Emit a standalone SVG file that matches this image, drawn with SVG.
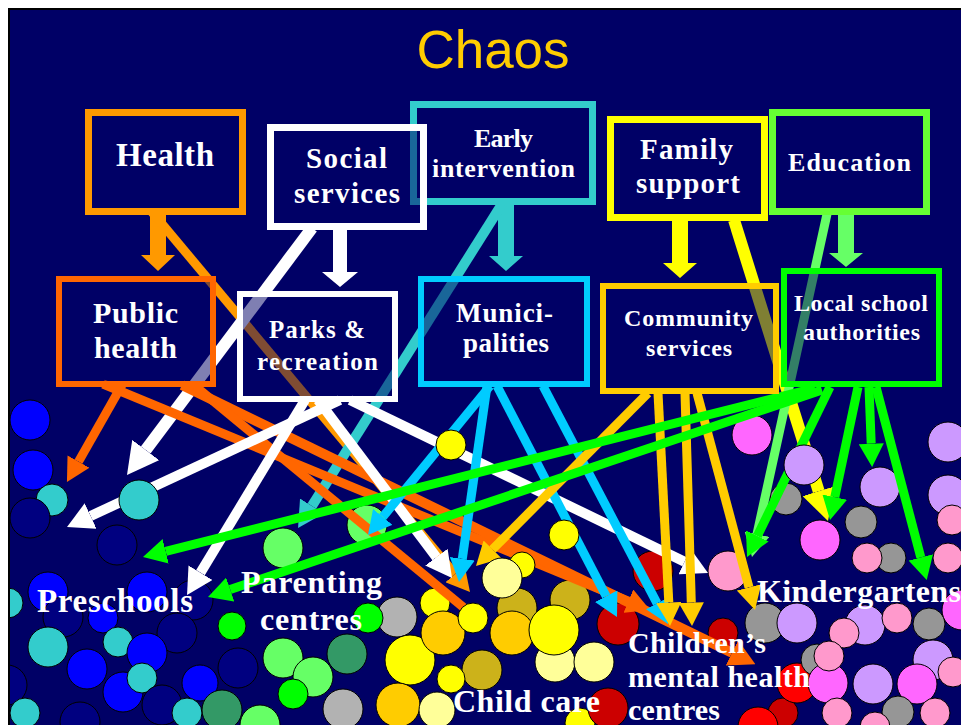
<svg xmlns="http://www.w3.org/2000/svg" width="961" height="725" viewBox="0 0 961 725">
<defs>
<style>
.c{stroke:#000;stroke-width:1}
.bl{fill:#0000FF}.tl{fill:#33CCCC}.nv{fill:#000080}
.lg{fill:#66FF66}.gr{fill:#00FF00}.dg{fill:#339966}.gy{fill:#B2B2B2}
.ye{fill:#FFFF00}.go{fill:#FFCC00}.ly{fill:#FFFF99}.ol{fill:#CCB21A}
.dr{fill:#CC0000}.rd{fill:#FF0000}
.pk{fill:#FF99CC}.lv{fill:#CC99FF}.mg{fill:#FF66FF}.gk{fill:#969696}
.ln{fill:none;stroke-linecap:butt}
.box{fill:#000066;fill-opacity:0.5}
.t1{stroke-width:7}.t2{stroke-width:6}
.lab{font-family:"Liberation Serif","DejaVu Serif",serif;font-weight:bold;fill:#fff;text-anchor:middle}
.big{font-family:"Liberation Serif","DejaVu Serif",serif;font-weight:bold;fill:#fff}
</style>
<clipPath id="clipBg"><rect x="10" y="10" width="951" height="715"/></clipPath>
<marker id="mOr" viewBox="0 0 2.6 2.8" refX="0" refY="1.4" markerWidth="2.6" markerHeight="2.8" orient="auto" markerUnits="strokeWidth"><path d="M0,0 L2.6,1.4 L0,2.8 z" fill="#FF9900"/></marker>
<marker id="mRo" viewBox="0 0 2.6 2.8" refX="0" refY="1.4" markerWidth="2.6" markerHeight="2.8" orient="auto" markerUnits="strokeWidth"><path d="M0,0 L2.6,1.4 L0,2.8 z" fill="#FF6600"/></marker>
<marker id="mWh" viewBox="0 0 2.6 2.8" refX="0" refY="1.4" markerWidth="2.6" markerHeight="2.8" orient="auto" markerUnits="strokeWidth"><path d="M0,0 L2.6,1.4 L0,2.8 z" fill="#FFFFFF"/></marker>
<marker id="mTl" viewBox="0 0 2.6 2.8" refX="0" refY="1.4" markerWidth="2.6" markerHeight="2.8" orient="auto" markerUnits="strokeWidth"><path d="M0,0 L2.6,1.4 L0,2.8 z" fill="#33CCCC"/></marker>
<marker id="mBl" viewBox="0 0 2.6 2.8" refX="0" refY="1.4" markerWidth="2.6" markerHeight="2.8" orient="auto" markerUnits="strokeWidth"><path d="M0,0 L2.6,1.4 L0,2.8 z" fill="#00CCFF"/></marker>
<marker id="mGo" viewBox="0 0 2.6 2.8" refX="0" refY="1.4" markerWidth="2.6" markerHeight="2.8" orient="auto" markerUnits="strokeWidth"><path d="M0,0 L2.6,1.4 L0,2.8 z" fill="#FFCC00"/></marker>
<marker id="mYe" viewBox="0 0 2.6 2.8" refX="0" refY="1.4" markerWidth="2.6" markerHeight="2.8" orient="auto" markerUnits="strokeWidth"><path d="M0,0 L2.6,1.4 L0,2.8 z" fill="#FFFF00"/></marker>
<marker id="mGr" viewBox="0 0 2.6 2.8" refX="0" refY="1.4" markerWidth="2.6" markerHeight="2.8" orient="auto" markerUnits="strokeWidth"><path d="M0,0 L2.6,1.4 L0,2.8 z" fill="#00FF00"/></marker>
<marker id="mLg" viewBox="0 0 2.6 2.8" refX="0" refY="1.4" markerWidth="2.6" markerHeight="2.8" orient="auto" markerUnits="strokeWidth"><path d="M0,0 L2.6,1.4 L0,2.8 z" fill="#66FF66"/></marker>
</defs>

<rect x="0" y="0" width="961" height="725" fill="#FFFFFF"/>
<rect x="9" y="9" width="960" height="720" fill="#000066" stroke="#000" stroke-width="2"/>

<g id="dots-back" clip-path="url(#clipBg)">
<!-- preschools -->
<circle class="c bl" cx="30" cy="420" r="20"/>
<circle class="c bl" cx="33" cy="470" r="20"/>
<circle class="c tl" cx="52" cy="500" r="16"/>
<circle class="c nv" cx="30" cy="518" r="20"/>
<circle class="c nv" cx="117" cy="545" r="20"/>
<circle class="c bl" cx="48" cy="592" r="20"/>
<circle class="c bl" cx="147" cy="592" r="20"/>
<circle class="c tl" cx="8" cy="603" r="15"/>
<circle class="c nv" cx="63" cy="617" r="20"/>
<circle class="c bl" cx="103" cy="618" r="15"/>
<circle class="c nv" cx="193" cy="600" r="20"/>
<circle class="c nv" cx="177" cy="633" r="20"/>
<circle class="c tl" cx="118" cy="642" r="15"/>
<circle class="c tl" cx="48" cy="647" r="20"/>
<circle class="c bl" cx="147" cy="653" r="20"/>
<circle class="c bl" cx="87" cy="669" r="20"/>
<circle class="c nv" cx="7" cy="685" r="20"/>
<circle class="c bl" cx="123" cy="692" r="20"/>
<circle class="c tl" cx="142" cy="678" r="15"/>
<circle class="c bl" cx="200" cy="683" r="18"/>
<circle class="c nv" cx="162" cy="705" r="20"/>
<circle class="c tl" cx="25" cy="713" r="15"/>
<circle class="c nv" cx="80" cy="722" r="20"/>
<circle class="c tl" cx="187" cy="713" r="15"/>
<circle class="c nv" cx="238" cy="668" r="20"/>
<!-- parenting -->
<circle class="c lg" cx="283" cy="548" r="20"/>
<circle class="c lg" cx="367" cy="525" r="20"/>
<circle class="c gr" cx="232" cy="626" r="14"/>
<circle class="c dg" cx="222" cy="710" r="20"/>
<circle class="c lg" cx="260" cy="725" r="20"/>
<circle class="c lg" cx="283" cy="658" r="20"/>
<circle class="c lg" cx="313" cy="677" r="20"/>
<circle class="c gr" cx="293" cy="694" r="15"/>
<circle class="c dg" cx="347" cy="654" r="20"/>
<circle class="c gy" cx="343" cy="709" r="20"/>
<circle class="c gy" cx="397" cy="617" r="20"/>
<circle class="c gr" cx="368" cy="618" r="15"/>
<!-- child care -->
<circle class="c ol" cx="482" cy="670" r="20"/>
<circle class="c ol" cx="517" cy="608" r="20"/>
<circle class="c ol" cx="570" cy="600" r="20"/>
<circle class="c ly" cx="555" cy="662" r="20"/>
<circle class="c ly" cx="594" cy="662" r="20"/>
<circle class="c ye" cx="435" cy="603" r="15"/>
<circle class="c ye" cx="410" cy="660" r="25"/>
<circle class="c go" cx="443" cy="633" r="22"/>
<circle class="c ye" cx="451" cy="679" r="14"/>
<circle class="c go" cx="398" cy="705" r="22"/>
<circle class="c ly" cx="437" cy="710" r="18"/>
<circle class="c go" cx="512" cy="633" r="22"/>
<circle class="c ye" cx="554" cy="630" r="25"/>
<circle class="c ye" cx="580" cy="723" r="15"/>
<!-- mental health -->
<circle class="c dr" cx="653" cy="571" r="20"/>
<circle class="c dr" cx="618" cy="624" r="21"/>
<circle class="c dr" cx="723" cy="633" r="15"/>
<circle class="c dr" cx="608" cy="708" r="20"/>
<circle class="c dr" cx="783" cy="713" r="15"/>
<circle class="c rd" cx="797" cy="683" r="20"/>
<circle class="c rd" cx="758" cy="727" r="20"/>
<!-- kindergartens -->
<circle class="c mg" cx="752" cy="435" r="20"/>
<circle class="c gk" cx="786" cy="499" r="16"/>
<circle class="c lv" cx="880" cy="487" r="20"/>
<circle class="c lv" cx="948" cy="442" r="20"/>
<circle class="c lv" cx="948" cy="495" r="20"/>
<circle class="c pk" cx="952" cy="520" r="15"/>
<circle class="c gk" cx="861" cy="522" r="16"/>
<circle class="c mg" cx="820" cy="540" r="20"/>
<circle class="c gk" cx="891" cy="558" r="15"/>
<circle class="c pk" cx="867" cy="558" r="15"/>
<circle class="c pk" cx="948" cy="558" r="15"/>
<circle class="c pk" cx="728" cy="571" r="20"/>
<circle class="c gk" cx="765" cy="623" r="20"/>
<circle class="c lv" cx="797" cy="623" r="20"/>
<circle class="c lv" cx="865" cy="625" r="20"/>
<circle class="c pk" cx="844" cy="633" r="15"/>
<circle class="c pk" cx="897" cy="618" r="15"/>
<circle class="c gk" cx="929" cy="624" r="16"/>
<circle class="c mg" cx="962" cy="610" r="20"/>
<circle class="c gk" cx="817" cy="660" r="16"/>
<circle class="c lv" cx="933" cy="660" r="20"/>
<circle class="c mg" cx="828" cy="683" r="20"/>
<circle class="c pk" cx="829" cy="656" r="15"/>
<circle class="c lv" cx="873" cy="684" r="20"/>
<circle class="c mg" cx="917" cy="684" r="20"/>
<circle class="c pk" cx="953" cy="672" r="15"/>
<circle class="c pk" cx="837" cy="713" r="15"/>
<circle class="c gk" cx="898" cy="712" r="16"/>
<circle class="c pk" cx="935" cy="713" r="15"/>
<circle class="c pk" cx="875" cy="727" r="15"/>
</g>

<g id="connectors">
<!-- block arrows between rows -->
<polygon points="150,213 166,213 166,255 175,255 158,271 141,255 150,255" fill="#FF9900"/>
<polygon points="333,228 347,228 347,272 358,272 340,287 322,272 333,272" fill="#FFFFFF"/>
<polygon points="498,203 514,203 514,256 523,256 506,271 489,256 498,256" fill="#33CCCC"/>
<polygon points="672,219 688,219 688,263 697,263 680,278 663,263 672,263" fill="#FFFF00"/>
<polygon points="838,213 854,213 854,253 863,253 846,267 829,253 838,253" fill="#66FF66"/>
<!-- top-level long lines -->
<line class="ln" x1="152" y1="212" x2="455" y2="574.1" stroke="#FF9900" stroke-width="9" marker-end="url(#mOr)"/>
<line class="ln" x1="312" y1="228" x2="145.7" y2="450" stroke="#FFFFFF" stroke-width="12" marker-end="url(#mWh)"/>
<line class="ln" x1="502" y1="204" x2="311.9" y2="506" stroke="#33CCCC" stroke-width="10" marker-end="url(#mTl)"/>
<line class="ln" x1="734" y1="220" x2="818.7" y2="491.2" stroke="#FFFF00" stroke-width="12" marker-end="url(#mYe)"/>
<line class="ln" x1="827" y1="214" x2="757" y2="534.1" stroke="#66FF66" stroke-width="9" marker-end="url(#mLg)"/>
<!-- public health -->
<line class="ln" x1="122" y1="385" x2="78.5" y2="461.6" stroke="#FF6600" stroke-width="9" marker-end="url(#mRo)"/>
<line class="ln" x1="103" y1="384" x2="628.4" y2="601.1" stroke="#FF6600" stroke-width="9" marker-end="url(#mRo)"/>
<line class="ln" x1="182" y1="385" x2="732" y2="652.8" stroke="#FF6600" stroke-width="10" marker-end="url(#mRo)"/>
<line class="ln" x1="195" y1="386" x2="480" y2="621" stroke="#FF6600" stroke-width="9"/>
<!-- parks & recreation -->
<line class="ln" x1="340" y1="400" x2="90.6" y2="516" stroke="#FFFFFF" stroke-width="10" marker-end="url(#mWh)"/>
<line class="ln" x1="305" y1="400" x2="200.5" y2="572.7" stroke="#FFFFFF" stroke-width="10" marker-end="url(#mWh)"/>
<line class="ln" x1="318" y1="400" x2="436.4" y2="557.2" stroke="#FFFFFF" stroke-width="10" marker-end="url(#mWh)"/>
<line class="ln" x1="350" y1="400" x2="684.6" y2="561.7" stroke="#FFFFFF" stroke-width="10" marker-end="url(#mWh)"/>
<!-- municipalities -->
<line class="ln" x1="490" y1="386" x2="382.8" y2="516.9" stroke="#00CCFF" stroke-width="9" marker-end="url(#mBl)"/>
<line class="ln" x1="487" y1="386" x2="462.3" y2="558.8" stroke="#00CCFF" stroke-width="9" marker-end="url(#mBl)"/>
<line class="ln" x1="497" y1="386" x2="606.2" y2="596.2" stroke="#00CCFF" stroke-width="9" marker-end="url(#mBl)"/>
<line class="ln" x1="543" y1="386" x2="657.1" y2="603.3" stroke="#00CCFF" stroke-width="9" marker-end="url(#mBl)"/>
<!-- community services -->
<line class="ln" x1="648" y1="393" x2="492.5" y2="549.4" stroke="#FFCC00" stroke-width="9" marker-end="url(#mGo)"/>
<line class="ln" x1="658" y1="393" x2="668.8" y2="602.6" stroke="#FFCC00" stroke-width="9" marker-end="url(#mGo)"/>
<line class="ln" x1="685" y1="393" x2="691.3" y2="602.6" stroke="#FFCC00" stroke-width="9" marker-end="url(#mGo)"/>
<line class="ln" x1="697" y1="393" x2="749" y2="587.4" stroke="#FFCC00" stroke-width="9" marker-end="url(#mGo)"/>
<!-- local school authorities -->
<line class="ln" x1="815" y1="388" x2="165.7" y2="551.3" stroke="#00FF00" stroke-width="9" marker-end="url(#mGr)"/>
<line class="ln" x1="822" y1="390" x2="230.2" y2="589.5" stroke="#00FF00" stroke-width="9" marker-end="url(#mGr)"/>
<line class="ln" x1="830" y1="387" x2="757.3" y2="536" stroke="#00FF00" stroke-width="9" marker-end="url(#mGr)"/>
<line class="ln" x1="858" y1="387" x2="834.8" y2="497.1" stroke="#00FF00" stroke-width="9" marker-end="url(#mGr)"/>
<line class="ln" x1="869" y1="387" x2="871.2" y2="443.7" stroke="#00FF00" stroke-width="9" marker-end="url(#mGr)"/>
<line class="ln" x1="876" y1="387" x2="920.8" y2="557.4" stroke="#00FF00" stroke-width="9" marker-end="url(#mGr)"/>
</g>

<g id="dots-front">
<circle class="c tl" cx="139" cy="500" r="20"/>
<circle class="c ye" cx="451" cy="445" r="15"/>
<circle class="c ye" cx="564" cy="535" r="15"/>
<circle class="c ye" cx="473" cy="618" r="15"/>
<circle class="c ye" cx="522" cy="565" r="13"/>
<circle class="c ly" cx="502" cy="578" r="20"/>
<circle class="c lv" cx="804" cy="465" r="20"/>
</g>

<g id="early-intervention"><rect class="box t1" x="413.5" y="104.5" width="179" height="97" stroke="#33CCCC"/>
<text class="lab" x="503.5" y="147" font-size="26" textLength="59">Early</text>
<text class="lab" x="503.5" y="177" font-size="26" textLength="143">intervention</text></g>
<g id="health"><rect class="box t1" x="88.5" y="112.5" width="154" height="99" stroke="#FF9900"/>
<text class="lab" x="165" y="166" font-size="33" textLength="98">Health</text></g>
<g id="social-services"><rect class="box t1" x="270.5" y="127.5" width="153" height="99" stroke="#FFFFFF"/>
<text class="lab" x="346.5" y="168" font-size="29" textLength="81">Social</text>
<text class="lab" x="347" y="203" font-size="29" textLength="106">services</text></g>
<g id="family-support"><rect class="box t1" x="610.5" y="119.5" width="154" height="98" stroke="#FFFF00"/>
<text class="lab" x="686.5" y="159" font-size="29" textLength="93">Family</text>
<text class="lab" x="688" y="193" font-size="29" textLength="104">support</text></g>
<g id="education"><rect class="box t1" x="772.5" y="112.5" width="154" height="99" stroke="#66FF33"/>
<text class="lab" x="849.5" y="171" font-size="26" textLength="123">Education</text></g>

<g id="public-health"><rect class="box t2" x="59" y="279" width="154" height="105" stroke="#FF6600"/>
<text class="lab" x="135.5" y="323" font-size="30" textLength="85">Public</text>
<text class="lab" x="135.5" y="358" font-size="30" textLength="83">health</text></g>
<g id="parks-recreation"><rect class="box t2" x="240" y="294" width="155" height="105" stroke="#FFFFFF"/>
<text class="lab" x="317" y="338" font-size="25" textLength="96">Parks &amp;</text>
<text class="lab" x="317.5" y="370" font-size="25" textLength="121">recreation</text></g>
<g id="municipalities"><rect class="box t2" x="421" y="279" width="166" height="105" stroke="#00CCFF"/>
<text class="lab" x="504.5" y="322" font-size="27" textLength="97">Munici-</text>
<text class="lab" x="506" y="352" font-size="27" textLength="86">palities</text></g>
<g id="community-services"><rect class="box t2" x="603" y="286" width="173" height="105" stroke="#FFCC00"/>
<text class="lab" x="688.5" y="326" font-size="24" textLength="129">Community</text>
<text class="lab" x="689" y="356" font-size="24" textLength="86">services</text></g>
<g id="local-school-authorities"><rect class="box t2" x="784" y="271" width="155" height="113" stroke="#00FF00"/>
<text class="lab" x="861" y="311" font-size="24" textLength="134">Local school</text>
<text class="lab" x="861.5" y="340" font-size="24" textLength="117">authorities</text></g>

<g id="preschools"><text class="big" x="37" y="612" font-size="33" textLength="156">Preschools</text></g>
<g id="parenting-centres"><text class="big" x="241" y="593" font-size="32" textLength="141">Parenting</text>
<text class="big" x="260" y="630" font-size="32" textLength="102">centres</text></g>
<g id="child-care"><text class="big" x="453" y="712" font-size="32" textLength="147">Child care</text></g>
<g id="mental-health-centres"><text class="big" x="628" y="653" font-size="30" textLength="138">Children’s</text>
<text class="big" x="628" y="687" font-size="30" textLength="182">mental health</text>
<text class="big" x="628" y="720" font-size="30" textLength="92">centres</text></g>
<g id="kindergartens"><text class="big" x="757" y="602" font-size="32" textLength="204">Kindergartens</text></g>

<text x="493" y="68" font-family="'Liberation Sans',Arial,sans-serif" font-size="53" fill="#FFCC00" text-anchor="middle">Chaos</text>
</svg>
